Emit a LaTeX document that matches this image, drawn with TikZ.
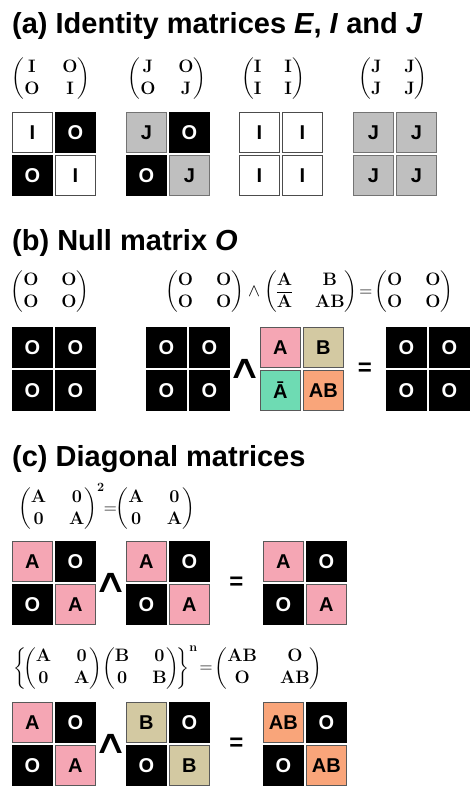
\documentclass[tikz,border=0pt]{standalone}
\usepackage{fix-cm}
\usepackage{amsmath}
\usepackage{graphicx}
\usepackage[no-math]{fontspec}
\setmainfont{Liberation Sans}
\newfontfamily\symfont{DejaVu Sans}
\usetikzlibrary{positioning, calc}

\definecolor{cellpink}{HTML}{F5A6B4}
\definecolor{celltan}{HTML}{D3C9A2}
\definecolor{cellteal}{HTML}{6EDBB3}
\definecolor{cellorange}{HTML}{F9A57A}

\setlength{\arraycolsep}{11.5pt}

% bold 2x2 matrix
\newcommand{\mtx}[4]{\begin{pmatrix}\mathbf{#1} & \mathbf{#2}\\ \mathbf{#3} & \mathbf{#4}\end{pmatrix}}

% 2x2 block of cells, top left corner at #2
\newcommand{\cellgrid}[3]{%
  \foreach \st/\tx [count=\i from 0] in {#3}
    \node[\st, anchor=north west, xshift={mod(\i,2)*43pt}, yshift={-int(\i/2)*43pt}] (#1-\i) at (#2) {\tx};
}

\begin{document}
\begin{tikzpicture}[
                x=1pt, y=-1pt,
                cellbox/.style={minimum size=40pt, inner sep=0pt, line width=0.8pt, font=\fontsize{20}{20}\selectfont\bfseries},
                zero/.style={cellbox, draw=black, fill=black, text=white},
                ident/.style={cellbox, draw=black!70, fill=white},
                jay/.style={cellbox, draw=black!55, fill=black!25},
                apink/.style={cellbox, draw=black!65, fill=cellpink},
                btan/.style={cellbox, draw=black!65, fill=celltan},
                abar/.style={cellbox, draw=black!65, fill=cellteal},
                abcell/.style={cellbox, draw=black!65, fill=cellorange},
                formula/.style={inner sep=0pt, font=\fontsize{18}{22}\selectfont},
                heading/.style={anchor=base west, inner sep=0pt, font=\fontsize{29}{29}\selectfont\bfseries},
                wedgeop/.style={inner sep=0pt, font=\symfont\fontsize{33}{33}\selectfont},
                equalop/.style={inner sep=0pt, font=\fontsize{24}{24}\selectfont\bfseries}
            ]
                \useasboundingbox (0,0) rectangle (474,790);

                % (a) identity matrices
                \node[heading] (ta) at (12,33) {(a) Identity matrices \textit{E}, \textit{I} and \textit{J}};
                \node[formula] (fa1) at (51,79) {$\mtx{I}{O}{O}{I}$};
                \node[formula] (fa2) at (167,79) {$\mtx{J}{O}{O}{J}$};
                \node[formula] (fa3) at (273,79) {$\mtx{I}{I}{I}{I}$};
                \node[formula] (fa4) at (393,79) {$\mtx{J}{J}{J}{J}$};
                \cellgrid{ea}{12,112}{ident/I, zero/O, zero/O, ident/I}
                \cellgrid{eb}{126,112}{jay/J, zero/O, zero/O, jay/J}
                \cellgrid{ec}{239,112}{ident/I, ident/I, ident/I, ident/I}
                \cellgrid{ed}{353,112}{jay/J, jay/J, jay/J, jay/J}

                % (b) null matrix
                \node[heading] (tb) at (12,250) {(b) Null matrix \textit{O}};
                \node[formula] (fb1) at (50,292) {$\mtx{O}{O}{O}{O}$};
                \node[formula, anchor=west] (fb2) at (165,292) {$\mtx{O}{O}{O}{O}\wedge\mtx{A}{B}{\overline{A}}{AB}
                    \!=\!\mtx{O}{O}{O}{O}$};
                \cellgrid{na}{12,327}{zero/O, zero/O, zero/O, zero/O}
                \cellgrid{nb}{146,327}{zero/O, zero/O, zero/O, zero/O}
                \cellgrid{nc}{260,327}{apink/A, btan/B, abar/Ā, abcell/AB}
                \cellgrid{nd}{386,327}{zero/O, zero/O, zero/O, zero/O}
                \node[wedgeop] (nw) at ($(nb-1.south east)!0.5!(nc-2.north west)$) {\scalebox{1.45}[1]{∧}};
                \node[equalop] (ne) at ($(nc-1.south east)!0.5!(nd-2.north west)$) {=};

                % (c) diagonal matrices
                \node[heading] (tc) at (12,466) {(c) Diagonal matrices};
                \node[formula, anchor=west] (fc1) at (18,507) {$\mtx{A}{0}{0}{A}^{\mathbf{2}}\!\!=\!\!\mtx{A}{0}{0}{A}$};
                \cellgrid{da}{12,541}{apink/A, zero/O, zero/O, apink/A}
                \cellgrid{db}{126,541}{apink/A, zero/O, zero/O, apink/A}
                \cellgrid{dc}{263,541}{apink/A, zero/O, zero/O, apink/A}
                \node[wedgeop] (dw1) at ($(da-1.south east)!0.5!(db-2.north west)$) {\scalebox{1.45}[1]{∧}};
                \node[equalop] (de1) at ($(db-1.south east)!0.5!(dc-2.north west)$) {=};

                \node[formula, anchor=west] (fc2) at (13,668) {$\left\{\!\mtx{A}{0}{0}{A}\!\mtx{B}{0}{0}{B}\!\right\}^{\mathbf{n}}
                    \!=\!\mtx{AB}{O}{O}{AB}$};
                \cellgrid{de}{12,702}{apink/A, zero/O, zero/O, apink/A}
                \cellgrid{df}{126,702}{btan/B, zero/O, zero/O, btan/B}
                \cellgrid{dg}{263,702}{abcell/AB, zero/O, zero/O, abcell/AB}
                \node[wedgeop] (dw2) at ($(de-1.south east)!0.5!(df-2.north west)$) {\scalebox{1.45}[1]{∧}};
                \node[equalop] (de2) at ($(df-1.south east)!0.5!(dg-2.north west)$) {=};
            \end{tikzpicture}
\end{document}
